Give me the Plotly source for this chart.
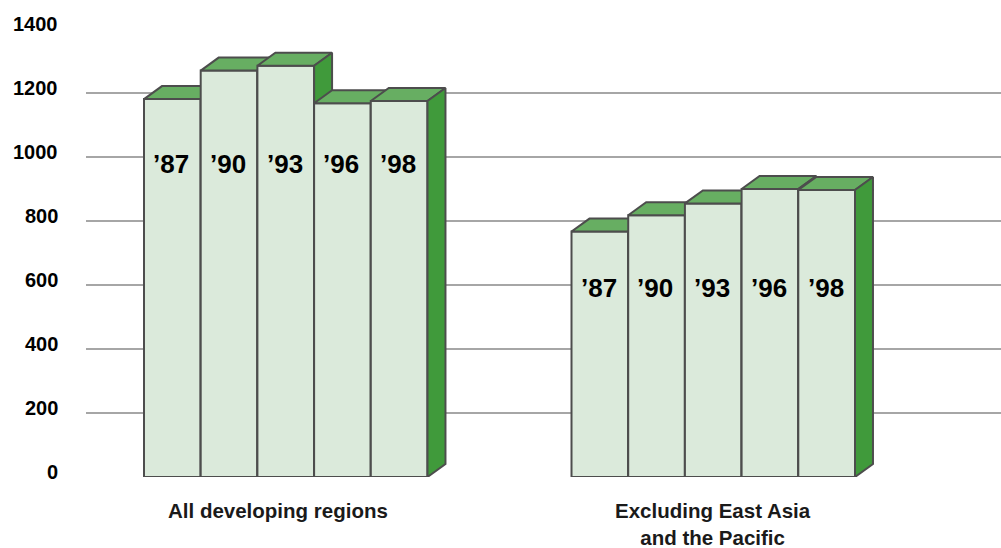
import plotly.graph_objects as go

# Number of people (millions) by survey year, two regional groupings
groups = ["All developing regions", "Excluding East Asia<br>and the Pacific"]
years = ["’87", "’90", "’93", "’96", "’98"]
all_regions = [1181, 1270, 1285, 1168, 1175]
excl_east_asia = [767, 818, 855, 900, 897]
y_ticks = [0, 200, 400, 600, 800, 1000, 1200, 1400]

series = [all_regions, excl_east_asia]
group_start = [0.0, 7.54]   # left edge of each cluster, in bar widths
label_level = [977, 591]    # height at which the year labels sit in each cluster
bar_w = 1.0
depth_x = 0.317             # oblique depth offset along x (bar widths)
depth_y = 40.6              # oblique depth offset along y (value units)

FRONT = "#dbeadb"
TOP = "#67ae62"
SIDE = "#409a3b"
EDGE = "#4d4d4d"
FONT = "Liberation Sans, Arial, sans-serif"

fig = go.Figure()


def face(xs, ys, color):
    fig.add_trace(go.Scatter(
        x=xs + [xs[0]], y=ys + [ys[0]], mode="lines", fill="toself",
        fillcolor=color, line=dict(color=EDGE, width=2),
        hoverinfo="skip", showlegend=False,
    ))


for g, vals in enumerate(series):
    for i, v in enumerate(vals):
        x0 = group_start[g] + i * bar_w
        x1 = x0 + bar_w
        # front face
        face([x0, x1, x1, x0], [0, 0, v, v], FRONT)
        # top face
        face([x0, x1, x1 + depth_x, x0 + depth_x],
             [v, v, v + depth_y, v + depth_y], TOP)
        # right side face
        face([x1, x1 + depth_x, x1 + depth_x, x1],
             [0, depth_y, v + depth_y, v], SIDE)

    # year labels inside the bars
    for i, yr in enumerate(years):
        fig.add_annotation(
            x=group_start[g] + (i + 0.5) * bar_w - 0.02, y=label_level[g],
            text=yr, showarrow=False, xanchor="center", yanchor="middle",
            font=dict(family=FONT, size=26, color="#000000", weight="bold"),
        )

    # group captions under the axis
    fig.add_annotation(
        x=group_start[g] + len(vals) * bar_w / 2 - (0.14 if g == 0 else 0.0),
        y=0, yshift=-20, text=groups[g], showarrow=False,
        xanchor="center", yanchor="top",
        font=dict(family=FONT, size=20.5, color="#1a1a1a", weight="bold"),
    )

# value-axis labels, set slightly above their gridlines
for t in y_ticks:
    fig.add_annotation(
        xref="paper", x=0, xshift=-26, y=t, yshift=5, text=str(t),
        showarrow=False, xanchor="right", yanchor="middle",
        font=dict(family=FONT, size=20, color="#000000", weight="bold"),
    )

fig.update_layout(
    width=1001, height=548,
    margin=dict(l=86, r=0, t=29, b=71),
    paper_bgcolor="white", plot_bgcolor="white",
    showlegend=False,
    xaxis=dict(range=[-1.023, 15.115], showgrid=False, zeroline=False,
               showticklabels=False, showline=False, fixedrange=True),
    yaxis=dict(range=[0, 1400], tickvals=y_ticks,
               showgrid=True, gridcolor="#a6a6a6", gridwidth=1.5,
               zeroline=False, showline=False, ticks="",
               showticklabels=False, fixedrange=True),
)

fig.write_html("out.html")
